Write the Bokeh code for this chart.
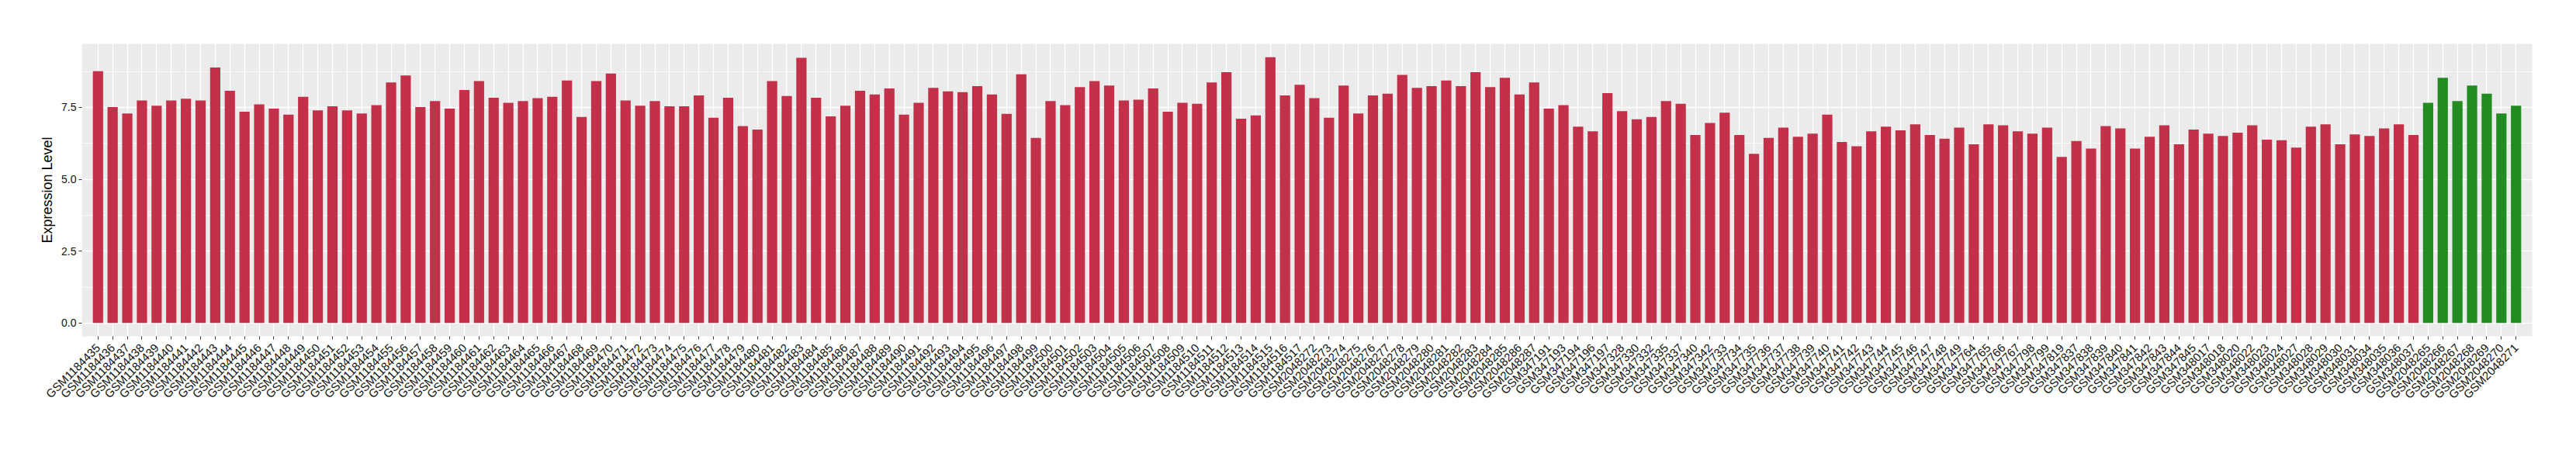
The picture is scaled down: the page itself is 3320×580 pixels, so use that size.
import math
from bokeh.plotting import figure
from bokeh.models import FactorRange, Range1d, FixedTicker, PrintfTickFormatter, ColumnDataSource
from bokeh.embed import file_html
from bokeh.resources import INLINE

samples = [
    "GSM1184435", "GSM1184436", "GSM1184437", "GSM1184438", "GSM1184439", "GSM1184440", "GSM1184441",
    "GSM1184442", "GSM1184443", "GSM1184444", "GSM1184445", "GSM1184446", "GSM1184447", "GSM1184448",
    "GSM1184449", "GSM1184450", "GSM1184451", "GSM1184452", "GSM1184453", "GSM1184454", "GSM1184455",
    "GSM1184456", "GSM1184457", "GSM1184458", "GSM1184459", "GSM1184460", "GSM1184461", "GSM1184462",
    "GSM1184463", "GSM1184464", "GSM1184465", "GSM1184466", "GSM1184467", "GSM1184468", "GSM1184469",
    "GSM1184470", "GSM1184471", "GSM1184472", "GSM1184473", "GSM1184474", "GSM1184475", "GSM1184476",
    "GSM1184477", "GSM1184478", "GSM1184479", "GSM1184480", "GSM1184481", "GSM1184482", "GSM1184483",
    "GSM1184484", "GSM1184485", "GSM1184486", "GSM1184487", "GSM1184488", "GSM1184489", "GSM1184490",
    "GSM1184491", "GSM1184492", "GSM1184493", "GSM1184494", "GSM1184495", "GSM1184496", "GSM1184497",
    "GSM1184498", "GSM1184499", "GSM1184500", "GSM1184501", "GSM1184502", "GSM1184503", "GSM1184504",
    "GSM1184505", "GSM1184506", "GSM1184507", "GSM1184508", "GSM1184509", "GSM1184510", "GSM1184511",
    "GSM1184512", "GSM1184513", "GSM1184514", "GSM1184515", "GSM1184516", "GSM1184517",
    "GSM2048272", "GSM2048273", "GSM2048274", "GSM2048275", "GSM2048276", "GSM2048277", "GSM2048278",
    "GSM2048279", "GSM2048280", "GSM2048281", "GSM2048282", "GSM2048283", "GSM2048284", "GSM2048285",
    "GSM2048286", "GSM2048287",
    "GSM347191", "GSM347193", "GSM347194", "GSM347196", "GSM347197", "GSM347328", "GSM347330",
    "GSM347332", "GSM347335", "GSM347337", "GSM347340", "GSM347342",
    "GSM347733", "GSM347734", "GSM347735", "GSM347736", "GSM347737", "GSM347738", "GSM347739",
    "GSM347740", "GSM347741", "GSM347742", "GSM347743", "GSM347744", "GSM347745", "GSM347746",
    "GSM347747", "GSM347748", "GSM347749",
    "GSM347764", "GSM347765", "GSM347766", "GSM347767", "GSM347798", "GSM347799", "GSM347819",
    "GSM347837", "GSM347838", "GSM347839", "GSM347840", "GSM347841", "GSM347842", "GSM347843",
    "GSM347844", "GSM347845",
    "GSM348017", "GSM348018", "GSM348020", "GSM348022", "GSM348023", "GSM348024", "GSM348027",
    "GSM348028", "GSM348029", "GSM348030", "GSM348031", "GSM348034", "GSM348035", "GSM348036",
    "GSM348037",
    "GSM2048265", "GSM2048266", "GSM2048267", "GSM2048268", "GSM2048269", "GSM2048270", "GSM2048271",
]

expression = [
    8.76, 7.51, 7.29, 7.74, 7.56, 7.74, 7.80, 7.74, 8.89, 8.08, 7.35, 7.61, 7.46, 7.25, 7.87, 7.40, 7.54,
    7.40, 7.29, 7.58, 8.37,
    8.61, 7.51, 7.72, 7.46, 8.11, 8.42, 7.84, 7.66, 7.72, 7.82, 7.87, 8.44, 7.17, 8.42, 8.68, 7.74, 7.56,
    7.72, 7.54, 7.54, 7.92,
    7.14, 7.84, 6.85, 6.73, 8.42, 7.90, 9.23, 7.84, 7.19, 7.56, 8.08, 7.95, 8.16, 7.25, 7.66, 8.18, 8.06,
    8.03, 8.24, 7.95, 7.28,
    8.65, 6.44, 7.72, 7.58, 8.21, 8.42, 8.26, 7.74, 7.77, 8.16, 7.35, 7.66, 7.63, 8.37, 8.73, 7.11, 7.22,
    9.25, 7.92, 8.29,
    7.82, 7.14, 8.26, 7.29, 7.92, 7.98, 8.63, 8.18, 8.24, 8.44, 8.24, 8.73, 8.21, 8.53, 7.95, 8.37,
    7.46, 7.58, 6.83, 6.67, 8.00, 7.37, 7.09, 7.17, 7.72, 7.63, 6.54, 6.96,
    7.32, 6.54, 5.89, 6.44, 6.80, 6.48, 6.59, 7.25, 6.30, 6.15, 6.67, 6.83, 6.70, 6.91, 6.54, 6.41, 6.80,
    6.22, 6.91, 6.88, 6.67, 6.59, 6.80, 5.78, 6.33, 6.07, 6.85, 6.77, 6.07, 6.48, 6.88, 6.22, 6.73,
    6.59, 6.51, 6.62, 6.88, 6.38, 6.36, 6.10, 6.83, 6.91, 6.22, 6.56, 6.51, 6.77, 6.91, 6.54,
    7.66, 8.53, 7.72, 8.26, 7.98, 7.29, 7.56,
]

normal_samples = ["GSM2048265", "GSM2048266", "GSM2048267", "GSM2048268", "GSM2048269", "GSM2048270", "GSM2048271"]

y_ticks = [0, 2.5, 5.0, 7.5]
y_minor = [1.25, 3.75, 6.25, 8.75]

RED = "#C3304A"
GREEN = "#228B22"
colors = [GREEN if s in normal_samples else RED for s in samples]

src = ColumnDataSource(data=dict(sample=samples, value=expression, color=colors))

ymax = max(expression)
p = figure(
    x_range=FactorRange(factors=samples, range_padding=0.6, range_padding_units="absolute"),
    y_range=Range1d(-0.05 * ymax, 1.05 * ymax),
    width=3304, height=564,
    output_backend="svg", toolbar_location=None,
    min_border_left=105, min_border_right=41, min_border_top=56, min_border_bottom=131,
)

p.vbar(x="sample", top="value", width=0.7, fill_color="color", line_color=None, source=src)

p.background_fill_color = "#EBEBEB"
p.border_fill_color = "white"
p.outline_line_color = None

p.xgrid.grid_line_color = "white"
p.xgrid.grid_line_width = 1.3
p.ygrid.grid_line_color = "white"
p.ygrid.grid_line_width = 1.3
p.ygrid.minor_grid_line_color = "white"
p.ygrid.minor_grid_line_width = 0.7

p.yaxis.ticker = FixedTicker(ticks=y_ticks, minor_ticks=y_minor)
p.yaxis.formatter = PrintfTickFormatter(format="%.1f")

for ax in (p.xaxis, p.yaxis):
    ax.axis_line_color = None
    ax.major_tick_line_color = "#333333"
    ax.major_tick_line_width = 1
    ax.major_tick_out = 4
    ax.major_tick_in = 0
    ax.minor_tick_line_color = None
    ax.major_label_text_font = "Liberation Sans"
    ax.major_label_text_color = "#111111"

p.yaxis.major_label_text_font_size = "14px"
p.xaxis.major_label_text_font_size = "15px"
p.xaxis.major_label_orientation = math.pi / 4
p.xaxis.major_label_standoff = 8
p.yaxis.major_label_standoff = 3

p.yaxis.axis_label = "Expression Level"
p.yaxis.axis_label_text_font = "Liberation Sans"
p.yaxis.axis_label_text_font_size = "18px"
p.yaxis.axis_label_text_font_style = "normal"
p.yaxis.axis_label_text_color = "black"
p.yaxis.axis_label_standoff = 5

open("out.html", "w").write(file_html(p, INLINE))
